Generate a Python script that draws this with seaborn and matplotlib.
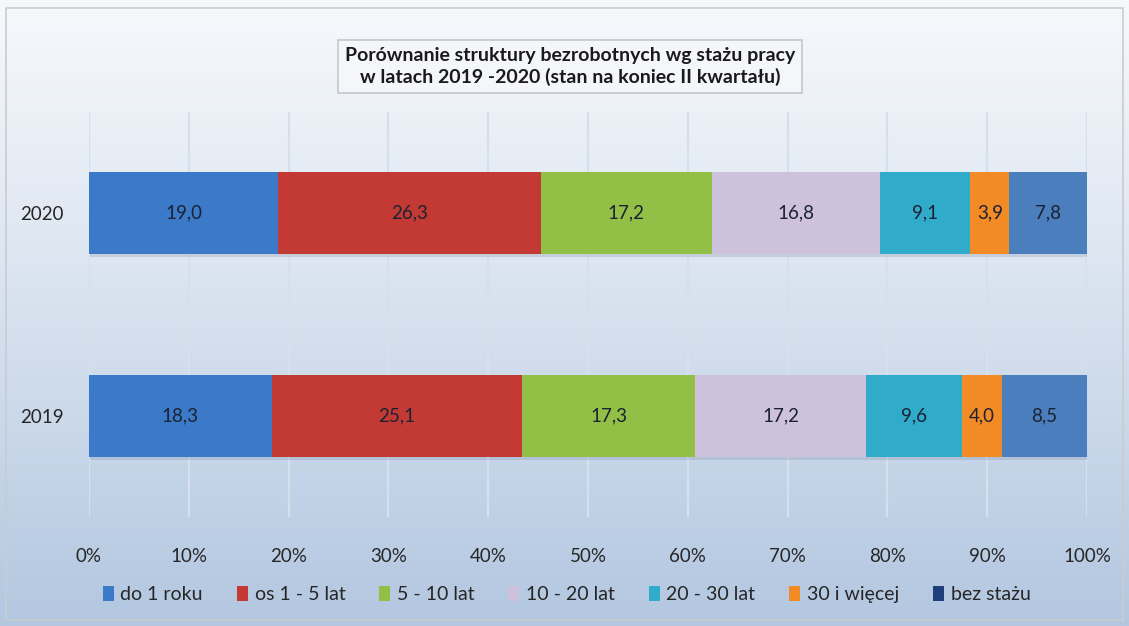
import numpy as np
import pandas as pd
import matplotlib.pyplot as plt
import matplotlib.patheffects as pe
from matplotlib.patches import Patch, Rectangle
import seaborn as sns

# data (percent of unemployed, by work experience)
years = ['2020', '2019']
categories = ['do 1 roku', 'os 1 - 5 lat', '5 - 10 lat', '10 - 20 lat',
              '20 - 30 lat', '30 i więcej', 'bez stażu']
values_2020 = [19.0, 26.3, 17.2, 16.8, 9.1, 3.9, 7.8]
values_2019 = [18.3, 25.1, 17.3, 17.2, 9.6, 4.0, 8.5]

bar_colors = ['#3b79c9', '#c33a35', '#92bf45', '#cdc1db', '#30abca', '#f28a26', '#4a7ebc']
legend_colors = ['#3b79c9', '#c33a35', '#92bf45', '#cdc1db', '#30abca', '#f28a26', '#1f3f7c']

sns.set_theme(style='white')
plt.rcParams['font.family'] = ['Lato', 'DejaVu Sans']

rows = []
for year, vals in zip(years, [values_2020, values_2019]):
    total = sum(vals)
    cum = np.cumsum(vals) / total * 100
    for cat, v, c in zip(categories, vals, cum):
        rows.append({'year': year, 'cat': cat, 'value': v, 'cum': c})
df = pd.DataFrame(rows)

fig = plt.figure(figsize=(11.29, 6.26), dpi=100)

# gradient background
bg = fig.add_axes([0, 0, 1, 1], zorder=-10)
grad = np.linspace(0, 1, 256).reshape(-1, 1)
top = np.array([0.965, 0.973, 0.985])
bot = np.array([0.70, 0.78, 0.88])
img = top + (bot - top) * grad[..., None] ** 1.1
bg.imshow(img, aspect='auto', extent=[0, 1, 0, 1], origin='upper')
bg.add_patch(Rectangle((0.005, 0.01), 0.99, 0.978, fill=False, edgecolor='#c9ccd1', lw=1.2))
bg.set_xlim(0, 1)
bg.set_ylim(0, 1)
bg.axis('off')

ax = fig.add_axes([0.0788, 0.1741, 0.884, 0.647])
ax.set_facecolor('none')

shadow = [pe.SimplePatchShadow(offset=(1, -2), shadow_rgbFace='#5a6a80', alpha=0.18), pe.Normal()]

# draw from the last category back, each bar as cumulative total
for cat, color in reversed(list(zip(categories, bar_colors))):
    sub = df[df['cat'] == cat]
    sns.barplot(data=sub, x='cum', y='year', order=years, orient='h',
                color=color, width=0.406, ax=ax, saturation=1, zorder=3)

for i, p in enumerate(ax.patches):
    p.set_linewidth(0)
    if i < 2:
        p.set_path_effects(shadow)

# data labels
ypos = {y: i for i, y in enumerate(years)}
for _, r in df.iterrows():
    ax.text(r['cum'] - r['value'] / 2, ypos[r['year']],
            f"{r['value']:.1f}".replace('.', ','),
            ha='center', va='center', fontsize=13.5, color='#1b2233', zorder=5)

ax.set_xlim(0, 100)
ax.set_ylim(1.5, -0.5)
ax.set_xticks(range(0, 101, 10))
ax.set_xticklabels([f'{t}%' for t in range(0, 101, 10)])
ax.xaxis.grid(True, color='#d6e0ec', lw=1.6, zorder=0)
ax.set_axisbelow(True)
ax.tick_params(axis='x', pad=22, labelsize=13.5, length=0, colors='#262626')
ax.tick_params(axis='y', pad=18, labelsize=13.5, length=0, colors='#262626')
ax.set_xlabel('')
ax.set_ylabel('')
sns.despine(ax=ax, left=True, bottom=True)

fig.text(0.505, 0.894,
         'Porównanie struktury bezrobotnych wg stażu pracy\nw latach 2019 -2020 (stan na koniec II kwartału)',
         ha='center', va='center', fontsize=14, fontweight='bold', color='#1a1a1a',
         linespacing=1.3,
         bbox=dict(boxstyle='square,pad=0.35', facecolor='#f4f6f9', edgecolor='#c4c6ca', lw=1.2))

handles = [Patch(facecolor=c, edgecolor='none') for c in legend_colors]
fig.legend(handles, categories, loc='center', bbox_to_anchor=(0.502, 0.05), ncol=7,
           frameon=False, fontsize=14, handlelength=0.55, handleheight=0.75,
           handletextpad=0.35, columnspacing=1.75, labelcolor='#262626')

fig.savefig('out.png', dpi=100)
